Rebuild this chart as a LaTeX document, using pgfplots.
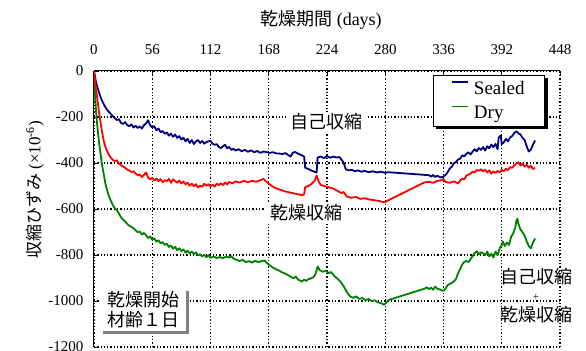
\documentclass[border=0pt]{standalone}
\usepackage{pgfplots}
\pgfplotsset{compat=1.18}
\usepackage{pgfplotstable}
\usetikzlibrary{shadows}
\usepackage{fontspec}
\setmainfont{Liberation Serif}
\newfontfamily\jp{Noto Sans CJK JP}

\definecolor{sealedc}{RGB}{0,0,128}
\definecolor{dryc}{RGB}{0,128,0}
\definecolor{diffc}{RGB}{255,0,0}

% Sealed specimens (autogenous shrinkage), x10^-6
\pgfplotstableread{
d v
0 0
2 -50
4 -82
6 -110
8 -132
10 -150
12 -165
14 -176
16 -186
18 -196
20 -205
22 -213
24 -210
26 -226
28 -230
30 -222
32 -236
34 -240
36 -232
38 -246
40 -238
42 -248
44 -241
46 -250
48 -236
50 -228
52 -214
54 -236
56 -246
58 -240
60 -258
62 -250
64 -266
66 -261
68 -273
70 -267
72 -281
74 -272
76 -286
78 -276
80 -291
82 -283
84 -298
86 -290
88 -306
90 -295
92 -313
94 -300
96 -318
98 -306
100 -300
102 -313
104 -304
106 -316
108 -309
110 -306
112 -304
114 -316
116 -321
118 -318
120 -331
122 -335
124 -327
126 -321
128 -336
130 -330
132 -343
134 -338
136 -346
139 -340
142 -349
145 -343
148 -351
151 -345
154 -353
157 -348
160 -356
163 -350
166 -353
169 -356
172 -353
175 -358
178 -359
181 -361
184 -357
187 -366
189 -372
191 -356
193 -352
196 -359
199 -365
202 -372
203 -420
206 -426
209 -433
212 -438
214 -441
215 -376
218 -372
221 -379
224 -370
227 -377
230 -372
233 -376
236 -374
238 -386
240 -398
242 -427
245 -432
248 -430
251 -436
254 -432
257 -438
260 -434
264 -440
268 -436
272 -441
276 -438
280 -443
283 -440
322 -453
324 -459
326 -452
328 -461
330 -455
333 -463
336 -459
338 -452
340 -440
342 -424
344 -416
346 -401
348 -396
350 -385
352 -381
354 -367
356 -371
358 -360
360 -354
362 -363
364 -350
366 -340
368 -349
370 -335
372 -343
374 -331
376 -346
378 -327
380 -336
382 -320
384 -331
386 -317
388 -340
389 -290
391 -280
392 -318
394 -310
396 -295
398 -306
400 -289
402 -283
404 -270
406 -262
408 -271
410 -276
412 -291
414 -300
416 -328
418 -350
420 -342
422 -320
424 -302
}\sealed

% Drying specimens (total shrinkage), x10^-6
\pgfplotstableread{
d v
0 0
0.5 -60
1 -105
2 -175
3 -230
4 -275
5 -318
6 -350
7 -385
8 -415
9 -440
10 -465
11 -490
12 -508
14 -540
16 -562
18 -582
20 -597
22 -605
24 -620
26 -636
28 -646
30 -655
32 -665
34 -673
36 -678
38 -684
40 -692
42 -701
44 -698
46 -711
48 -704
50 -714
52 -726
54 -719
56 -734
58 -728
60 -742
62 -736
64 -749
66 -744
68 -756
70 -751
72 -765
74 -759
76 -773
78 -764
80 -779
82 -771
84 -783
86 -776
88 -790
90 -781
92 -793
94 -785
96 -796
98 -789
100 -802
102 -797
104 -806
106 -799
108 -810
110 -801
112 -812
115 -807
118 -813
121 -809
124 -814
127 -807
130 -811
132 -805
134 -815
137 -821
140 -826
143 -821
146 -831
149 -827
152 -833
155 -825
158 -831
161 -827
164 -824
166 -834
169 -845
172 -855
175 -862
178 -868
181 -876
184 -881
187 -889
190 -896
192 -901
194 -894
196 -906
198 -911
200 -916
202 -907
204 -913
206 -905
208 -903
211 -896
213 -882
215 -850
217 -866
220 -873
223 -869
226 -879
228 -874
231 -891
234 -903
237 -916
240 -936
243 -961
246 -979
249 -986
252 -980
255 -991
258 -987
261 -996
264 -991
267 -1001
270 -997
273 -1006
276 -1010
279 -1016
281 -1008
283 -996
318 -946
320 -940
322 -949
324 -942
326 -951
328 -938
330 -946
333 -951
336 -956
338 -946
340 -931
342 -926
344 -921
346 -915
348 -904
350 -880
352 -861
354 -841
356 -830
358 -826
360 -831
362 -818
364 -805
366 -791
368 -784
370 -796
372 -788
374 -793
376 -800
378 -785
380 -806
382 -795
384 -811
386 -785
388 -801
390 -771
392 -756
393 -741
395 -761
397 -746
399 -756
401 -721
403 -706
405 -681
406 -652
407 -642
408 -664
410 -690
412 -701
414 -716
416 -741
418 -761
420 -771
422 -746
424 -728
}\dry

% Drying shrinkage (Dry minus Sealed), x10^-6
\pgfplotstableread{
d v
0 0
1 -40
2 -80
3 -115
4 -150
5 -185
6 -215
7 -245
8 -270
9 -295
10 -315
11 -330
12 -342
14 -362
16 -376
18 -386
20 -392
22 -388
24 -403
26 -410
28 -416
30 -421
32 -429
34 -433
36 -439
38 -436
40 -446
42 -453
44 -450
46 -461
48 -452
50 -441
52 -463
54 -471
56 -465
58 -476
60 -468
62 -479
64 -470
66 -483
68 -475
70 -479
72 -469
74 -486
76 -471
78 -479
80 -486
82 -476
84 -489
86 -480
88 -493
90 -485
92 -499
94 -490
96 -501
98 -492
100 -506
102 -498
104 -503
106 -490
108 -499
110 -492
112 -501
114 -495
116 -503
118 -490
120 -496
122 -488
124 -496
126 -485
128 -493
130 -482
133 -489
136 -480
140 -485
144 -478
148 -483
152 -478
156 -481
160 -475
163 -469
165 -478
168 -490
171 -500
175 -510
180 -518
185 -525
190 -530
195 -535
200 -540
202 -536
203 -505
206 -500
209 -491
212 -478
214 -455
216 -481
218 -495
222 -501
226 -506
230 -511
234 -521
238 -531
240 -526
243 -546
247 -551
252 -548
256 -556
260 -553
265 -559
270 -562
275 -566
279 -571
316 -488
318 -484
322 -482
326 -486
330 -478
334 -475
336 -470
338 -483
342 -486
346 -480
350 -489
352 -476
354 -468
356 -471
358 -455
360 -450
362 -446
364 -437
366 -441
368 -430
370 -434
372 -427
374 -436
376 -430
378 -441
380 -432
382 -446
384 -437
386 -443
388 -434
390 -441
392 -430
394 -436
396 -425
398 -431
400 -418
402 -421
404 -410
406 -403
408 -397
410 -411
412 -402
414 -416
416 -407
418 -421
420 -412
422 -426
424 -421
}\diff

\begin{document}
\begin{tikzpicture}
\useasboundingbox (-94bp,-4bp) rectangle (492bp,347bp);
\begin{axis}[
  at={(0,0)}, anchor=south west,
  scale only axis,
  width=466bp, height=276bp,
  xmin=0, xmax=448, ymin=-1200, ymax=0,
  axis x line=top, axis y line=left,
  axis line style={-, line width=1bp, black},
  xtick={0,56,112,168,224,280,336,392,448},
  xticklabels={0,56,112,168,224,280,336,392,448},
  ytick={-1200,-1000,-800,-600,-400,-200,0},
  yticklabels={-1200,-1000,-800,-600,-400,-200,0},
  tick align=inside,
  major tick length=5bp,
  tick style={black, line width=0.8bp},
  ticklabel style={font=\fontsize{15bp}{17bp}\selectfont},
  xticklabel style={yshift=13bp},
  yticklabel style={xshift=-7bp},
  grid=major,
  major grid style={black, line width=1.3bp, dash pattern=on 1.3bp off 2bp},
  legend style={name=legbox, at={(0.9678,0.9855)}, anchor=north east,
    draw=black, line width=0.8bp, fill=white,
    font=\fontsize{19bp}{21bp}\selectfont,
    inner xsep=18bp, inner ysep=4bp, row sep=6bp,
    /tikz/every odd column/.append style={column sep=3bp}},
  legend cell align=left,
  legend image code/.code={\draw[#1, line width=1.6bp] (0bp,6.5bp) -- (16bp,6.5bp);},
  every axis plot/.append style={line width=1.8bp, line join=round},
]
\addplot[sealedc, mark=none] table[x=d, y=v] {\sealed};
\addlegendentry{Sealed}
\addplot[dryc, mark=none] table[x=d, y=v] {\dry};
\addlegendentry{Dry}
\addplot[diffc, mark=none, forget plot] table[x=d, y=v] {\diff};
\end{axis}

% shadow of the legend frame (right and lower edges)
\fill[black] ([shift={(0.4bp,-2.6bp)}]legbox.north east) rectangle ([shift={(2.8bp,-2.8bp)}]legbox.south east);
\fill[black] ([shift={(2.6bp,-0.4bp)}]legbox.south west) rectangle ([shift={(2.8bp,-2.8bp)}]legbox.south east);

% titles and annotations
\node[font=\fontsize{18bp}{20bp}\selectfont] at (227bp,327bp) {{\jp 乾燥期間} (days)};
\node[rotate=90, font=\fontsize{17bp}{19bp}\selectfont] at (-59bp,157bp)
  {{\jp 収縮ひずみ} (×10\textsuperscript{-6})};
\node[fill=white, inner xsep=4bp, inner ysep=2bp, font=\jp\fontsize{18bp}{20bp}\selectfont]
  at (232bp,225bp) {自己収縮};
\node[fill=white, inner xsep=4bp, inner ysep=2bp, font=\jp\fontsize{18bp}{20bp}\selectfont]
  at (212bp,134bp) {乾燥収縮};
\node[font=\jp\fontsize{18bp}{20bp}\selectfont] at (442bp,70bp) {自己収縮};
\node[font=\fontsize{11bp}{12bp}\selectfont] at (442bp,50bp) {+};
\node[font=\jp\fontsize{18bp}{20bp}\selectfont] at (442bp,32bp) {乾燥収縮};
\node[anchor=north west, fill=white, align=left, inner xsep=7bp, inner ysep=3bp,
  drop shadow={shadow xshift=3bp, shadow yshift=-3bp, fill=gray, opacity=1},
  font=\jp\fontsize{18bp}{20bp}\selectfont]
  at (6bp,59bp) {乾燥開始\\材齢１日};
\end{tikzpicture}
\end{document}
